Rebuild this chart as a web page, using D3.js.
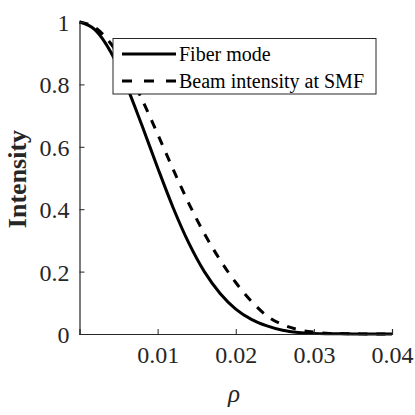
<!DOCTYPE html>
<html><head><meta charset="utf-8">
<script src="https://cdn.jsdelivr.net/npm/d3@7"></script>
<style>
html,body{margin:0;padding:0;background:#fff;}
svg{display:block;}
svg text{font-family:"Liberation Serif","Times New Roman",serif;}
</style></head>
<body>
<script>
const rho = [0,0.002,0.004,0.006,0.008,0.010,0.012,0.014,0.016,0.018,0.020,0.022,0.024,0.026,0.028,0.030,0.032,0.034,0.036,0.038,0.040];
const fiberMode = [1,0.975,0.904,0.797,0.668,0.533,0.404,0.291,0.199,0.130,0.080,0.047,0.026,0.012,0.005,0.002,0.001,0.0005,0.0002,0.0001,0];
const beamSMF = [1,0.982,0.931,0.852,0.752,0.641,0.527,0.418,0.321,0.237,0.165,0.105,0.058,0.030,0.014,0.006,0.002,0.001,0.0004,0.0002,0];
const xTicks = [0.01,0.02,0.03,0.04];
const yTicks = [0,0.2,0.4,0.6,0.8,1];
const seriesNames = ["Fiber mode","Beam intensity at SMF"];

const W=415,H=415;
const svg=d3.select("body").append("svg").attr("width",W).attr("height",H);
const x=d3.scaleLinear().domain([0,0.04]).range([79.5,392]);
const y=d3.scaleLinear().domain([0,1]).range([334,22]);
const font='"Liberation Serif","Times New Roman",serif';

const line=d3.line().x((d,i)=>x(rho[i])).y(d=>y(d)).curve(d3.curveMonotoneX);
svg.append("path").datum(fiberMode).attr("d",line).attr("fill","none").attr("stroke","#000").attr("stroke-width",3);
svg.append("path").datum(beamSMF).attr("d",line).attr("fill","none").attr("stroke","#000").attr("stroke-width",3).attr("stroke-dasharray","9,9");

// axes
const xa=svg.append("g").attr("transform","translate(0,334)")
  .call(d3.axisBottom(x).tickValues(xTicks).tickSize(-5).tickPadding(12).tickFormat(d3.format("")));
const ya=svg.append("g").attr("transform","translate(79.5,0)")
  .call(d3.axisLeft(y).tickValues(yTicks).tickSize(-5).tickPadding(10).tickFormat(d=>d3.format("")(d)));
[xa,ya].forEach(a=>{
  a.attr("font-family",null).attr("font-size",null);
  a.select(".domain").attr("stroke","#262626").attr("stroke-width",1.2);
  a.selectAll(".tick line").attr("stroke","#262626");
  a.selectAll("text").style("font-family",font).style("font-size","24px").attr("fill","#262626");
});
xa.selectAll("text").attr("dy","0.71em");
ya.selectAll("text").attr("dy","0.35em");

// axis labels
svg.append("text").attr("x",234).attr("y",402).attr("text-anchor","middle")
  .style("font-family",font).style("font-style","italic").style("font-size","25px").attr("fill","#262626").text("ρ");
svg.append("text").attr("transform","translate(26,179) rotate(-90)").attr("text-anchor","middle")
  .style("font-family",font).style("font-weight","bold").style("font-size","26px").attr("fill","#262626").text("Intensity");

// legend
const lg=svg.append("g");
lg.append("rect").attr("x",113).attr("y",38.5).attr("width",263).attr("height",55.5)
  .attr("fill","#fff").attr("stroke","#262626").attr("stroke-width",1);
const ly=[54,81];
seriesNames.forEach((n,i)=>{
  lg.append("line").attr("x1",122).attr("x2",176).attr("y1",ly[i]).attr("y2",ly[i])
    .attr("stroke","#000").attr("stroke-width",3).attr("stroke-dasharray",i?"10,12":null);
  lg.append("text").attr("x",179).attr("y",ly[i]).attr("dy","0.35em")
    .style("font-family",font).style("font-size","20px").attr("fill","#000").text(n);
});
</script>
</body></html>
